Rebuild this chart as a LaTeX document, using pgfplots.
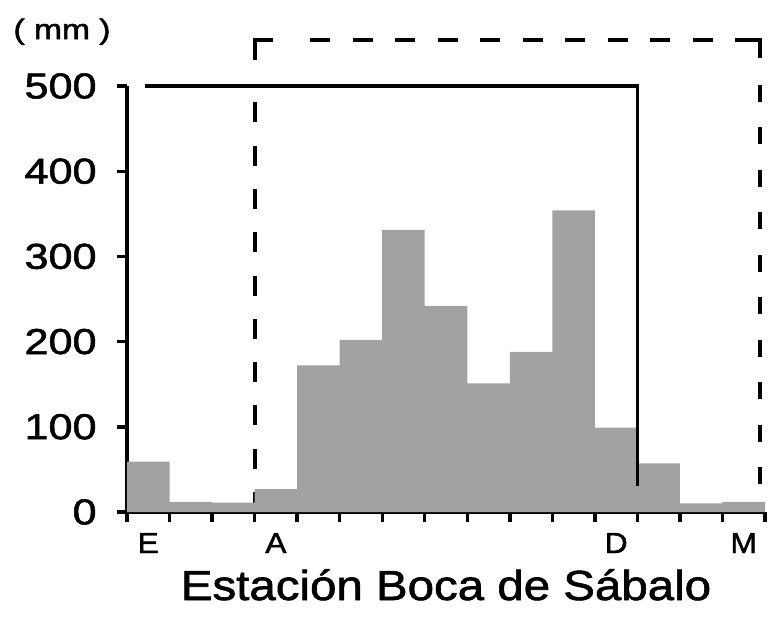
\documentclass[border=0pt]{standalone}
\usepackage{pgfplots}
\pgfplotsset{compat=1.18}
\usepackage{fontspec}
\setmainfont{Liberation Sans}
\newfontfamily\fTick[FakeStretch=1.2,FakeBold=1.5]{Liberation Sans}
\newfontfamily\fLab[FakeStretch=1.13,FakeBold=1.5]{Liberation Sans}
\newfontfamily\fMon[FakeStretch=1.1,FakeBold=1.5]{Liberation Sans}
\newfontfamily\fMM[FakeStretch=1.2,FakeBold=1.8]{Liberation Sans}
\definecolor{bargray}{RGB}{162,162,162}
\begin{document}
\begin{tikzpicture}
\path[use as bounding box] (-63.5pt,-55.5pt) rectangle (324pt,256pt);
\begin{axis}[
  at={(0,0)}, anchor=south west,
  scale only axis, width=319pt, height=213pt,
  xmin=0, xmax=15, ymin=0, ymax=500,
  clip=false,
  axis x line*=bottom, axis y line*=left,
  axis line style={line width=1.8pt},
  every tick/.style={line width=1.7pt, black},
  tick align=outside,
  major tick length=5pt,
  xtick={0,...,15}, xticklabels={},
  extra x ticks={0.5,3.5,11.5,14.5},
  extra x tick labels={E,A,D,M},
  extra x tick style={major tick length=0pt,
     xticklabel style={font=\fMon\fontsize{14.5}{14.5}\selectfont, anchor=base, inner sep=0pt, yshift=-20.5pt}},
  ytick={0,100,...,500},
  /pgf/number format/assume math mode=true,
  yticklabel style={font=\fTick\fontsize{18}{18}\selectfont, anchor=east, inner sep=0pt, xshift=-10pt},
  xlabel={Estación Boca de Sábalo},
  xlabel style={font=\fLab\fontsize{21}{21}\selectfont, at={(axis description cs:0.5,0)}, anchor=base, inner sep=0pt, yshift=-44pt},
  ylabel={( mm )},
  ylabel style={font=\fMM\fontsize{14}{14}\selectfont, at={(axis description cs:0,1)}, rotate=-90, anchor=base, inner sep=0pt, xshift=-32.5pt, yshift=23.5pt},
]
% dashed period line (April -> March), drawn in pieces
\addplot[black, line width=2pt, dash pattern=on 10pt off 11.65pt] coordinates {(3,0) (3,505)};
\addplot[black, line width=2pt] coordinates {(3,530.5) (3,554) (3.433,554)};
\addplot[black, line width=2pt, dash pattern=on 10pt off 11.25pt] coordinates {(4.303,554) (14.295,554)};
\addplot[black, line width=2pt] coordinates {(14.295,554) (14.883,554) (14.883,532.9)};
\addplot[black, line width=2pt, dash pattern=on 8.5pt off 12.75pt] coordinates {(14.883,501.2) (14.883,0)};
% monthly rainfall bars
\addplot[ybar interval, fill=bargray, draw=none] coordinates {
 (0,59) (1,12) (2,11) (3,27) (4,172) (5,202) (6,331) (7,242) (8,151) (9,188) (10,354) (11,99) (12,57) (13,10) (14,12) (15,12)};
% solid period line (January -> December)
\addplot[black, line width=1.9pt] coordinates {(0.42,500) (12,500) (12,30)};
\end{axis}
\end{tikzpicture}
\end{document}
